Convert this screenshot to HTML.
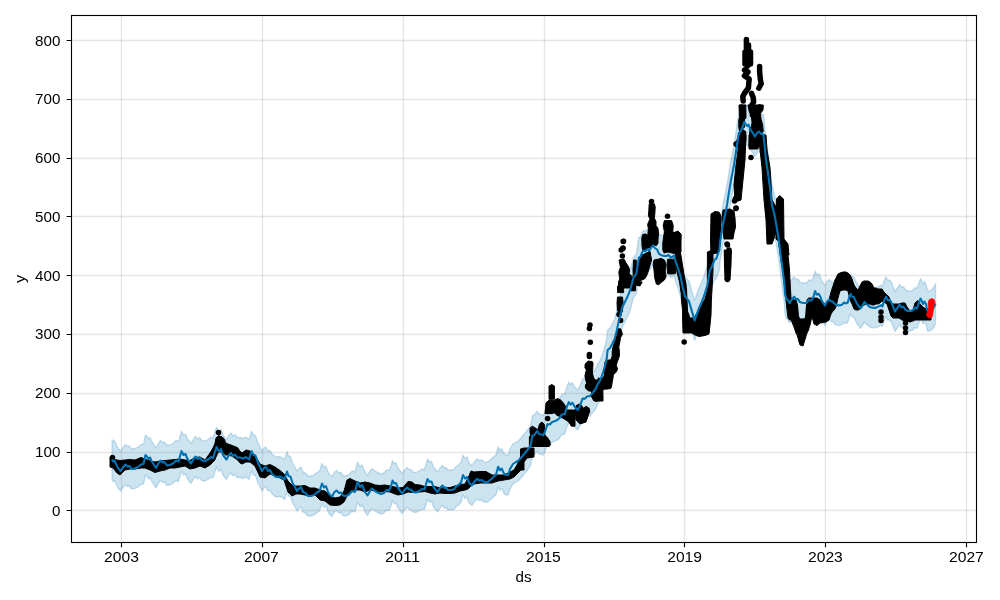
<!DOCTYPE html>
<html><head><meta charset="utf-8"><style>html,body{margin:0;padding:0;background:#fff;}svg{display:block;will-change:transform;}</style></head>
<body>
<svg width="1000" height="600" viewBox="0 0 1000 600">
<rect width="1000" height="600" fill="#fff"/>
<path d="M112.1,439.5 113.0,441.5 114.5,440.5 116.0,444.0 118.0,448.0 120.5,451.0 122.5,448.0 125.5,444.5 127.5,446.5 129.5,446.0 131.5,449.0 135.0,448.5 138.0,447.0 141.0,444.5 143.5,444.0 145.5,435.0 147.0,436.5 148.5,439.0 150.0,437.5 151.5,441.0 154.0,445.0 156.0,448.0 158.0,444.0 160.5,440.5 162.5,442.5 164.5,442.0 167.0,445.5 170.0,445.0 173.0,443.5 176.0,440.5 178.5,441.5 181.5,431.0 183.5,435.0 185.5,434.0 187.5,439.0 191.0,443.5 193.5,439.0 195.5,436.5 197.5,439.0 199.5,437.5 202.0,440.5 205.0,441.0 208.0,439.5 211.0,437.0 213.0,438.0 216.5,427.0 218.0,430.0 219.5,431.5 221.0,429.0 223.0,435.0 226.5,439.5 229.0,435.0 231.0,433.0 233.0,436.0 235.0,434.5 237.0,437.5 240.0,437.5 243.0,438.5 246.0,437.0 249.0,439.5 251.5,431.0 253.5,435.0 255.5,435.5 258.0,443.0 260.0,447.0 262.0,451.0 264.0,448.0 266.0,447.0 268.0,451.0 270.0,450.0 272.0,454.0 276.0,457.0 280.0,456.5 282.0,457.5 284.5,459.5 287.0,451.5 288.5,456.0 290.5,456.5 292.5,463.0 295.0,467.0 297.0,471.0 299.0,468.5 301.0,467.0 303.0,472.0 305.5,473.0 308.0,476.0 311.0,476.0 314.0,475.0 317.0,472.5 319.5,471.0 322.0,463.5 324.0,467.5 326.0,466.0 328.0,472.0 330.0,475.0 332.0,476.5 334.5,472.0 336.5,470.5 339.0,473.0 341.0,472.5 343.0,475.5 346.0,476.0 349.0,474.5 352.0,471.0 355.0,472.0 357.5,462.0 360.0,467.0 362.0,465.0 365.0,472.0 367.5,475.5 370.0,471.0 372.0,468.5 375.0,471.0 377.5,472.5 381.0,474.0 384.0,473.0 386.5,470.0 389.0,470.5 391.0,466.0 392.5,460.5 394.0,463.5 396.0,463.0 398.0,468.0 400.0,470.5 402.0,473.5 404.5,470.0 407.0,467.5 409.0,469.5 411.0,469.5 413.0,472.0 416.0,472.5 419.0,471.0 422.0,469.0 424.5,469.5 427.5,459.0 429.5,462.0 431.5,461.5 433.5,467.0 435.5,469.5 437.5,472.0 440.0,468.0 442.5,465.5 444.5,468.0 446.0,467.5 448.0,470.0 451.0,470.0 454.0,469.5 456.0,466.5 458.0,465.5 461.0,462.5 463.0,455.0 465.0,458.5 467.0,457.0 469.0,463.0 472.0,465.4 474.8,461.2 477.2,458.8 479.6,460.6 482.0,460.0 484.4,462.4 488.0,461.8 491.6,458.8 494.0,456.4 495.8,455.2 498.2,446.8 500.0,450.4 501.8,448.6 503.6,452.8 505.0,454.5 508.0,455.2 510.0,449.0 513.0,444.0 516.0,442.0 518.0,441.0 521.0,438.0 525.0,433.0 529.0,428.0 530.6,425.4 532.4,415.8 534.2,415.2 537.2,411.0 539.0,414.0 541.4,414.6 543.2,415.2 545.0,411.6 547.4,404.4 549.8,404.4 552.2,402.0 555.8,400.8 559.4,398.4 561.6,394.8 562.4,394.2 564.8,394.2 565.2,392.4 567.0,386.4 568.8,382.2 570.6,384.6 572.4,382.8 574.8,387.0 577.8,390.0 580.2,385.2 582.6,378.6 585.0,378.6 587.4,376.2 589.8,376.2 592.8,372.6 595.6,369.0 597.8,363.8 599.6,361.4 601.4,357.2 603.2,351.8 605.0,345.8 606.8,338.0 607.6,330.0 609.8,328.2 612.2,324.0 614.6,319.2 616.4,312.0 618.2,303.6 620.0,296.0 622.4,287.0 626.0,279.8 629.0,273.2 630.8,268.0 633.2,258.4 636.4,253.6 638.8,237.6 640.4,236.8 642.4,232.0 643.6,230.4 645.2,231.2 647.2,229.2 649.2,230.4 651.6,227.2 653.2,225.6 654.8,228.0 657.2,229.6 658.8,233.6 661.2,235.2 664.4,236.0 666.8,236.0 668.4,234.8 670.8,237.6 672.4,236.8 674.0,235.6 675.6,241.6 678.0,248.0 680.4,256.0 682.6,266.8 685.0,276.4 689.0,281.2 692.2,292.4 694.6,300.4 698.6,289.2 703.4,278.0 707.4,265.2 709.8,250.8 712.2,246.0 714.6,239.6 716.2,238.8 719.4,230.0 720.0,222.0 723.0,204.0 725.0,195.0 727.0,185.0 728.5,175.0 731.0,160.0 734.0,145.0 736.7,127.0 738.8,113.0 740.9,110.9 743.0,106.0 744.4,101.8 745.8,104.6 747.2,106.0 748.6,104.6 750.0,108.8 752.8,113.0 754.9,116.5 757.0,113.0 759.1,111.6 761.2,113.7 763.3,114.4 764.0,120.0 764.7,127.0 766.0,140.0 768.0,153.0 770.0,168.0 772.0,185.0 774.5,195.0 776.5,206.0 778.0,215.0 779.5,225.0 781.0,238.0 784.2,262.0 785.1,274.0 786.0,278.2 787.8,280.0 789.6,283.0 791.4,280.0 794.1,276.7 795.9,279.1 798.0,279.1 799.8,282.1 802.2,282.7 804.6,283.0 807.0,282.7 808.8,280.0 811.2,280.6 813.0,278.2 815.1,271.0 816.6,274.6 818.7,273.7 820.2,276.4 822.0,281.2 825.0,285.4 826.8,281.8 829.2,279.4 831.0,281.2 832.8,281.8 834.0,283.0 835.8,284.8 838.2,285.4 840.4,285.2 842.2,284.6 844.0,282.5 845.8,283.4 847.6,282.8 849.4,276.8 850.6,273.8 851.8,276.8 853.6,276.8 855.4,280.4 857.2,284.0 859.0,286.4 860.5,288.5 862.0,286.4 864.4,281.9 866.2,284.0 868.0,285.2 869.8,287.0 871.6,287.6 874.0,287.9 876.4,287.6 878.8,286.4 881.2,285.2 882.4,286.4 884.2,280.4 886.0,276.8 887.8,280.4 889.6,279.8 891.5,282.5 893.0,286.5 895.0,291.5 897.0,288.5 899.5,284.5 901.5,287.5 903.5,286.5 905.5,290.0 908.0,291.0 911.0,291.0 913.0,290.0 915.0,287.5 917.0,288.5 918.5,284.0 920.5,278.5 922.0,281.5 923.0,284.0 924.5,281.5 926.0,284.5 927.5,291.0 930.0,291.0 932.0,289.5 934.0,287.0 935.5,283.5 L935.5,323.5 934.0,327.0 932.0,329.5 930.0,331.0 927.5,331.0 926.0,324.5 924.5,321.5 923.0,324.0 922.0,321.5 920.5,318.5 918.5,324.0 917.0,328.5 915.0,327.5 913.0,330.0 911.0,331.0 908.0,331.0 905.5,330.0 903.5,326.5 901.5,327.5 899.5,324.5 897.0,328.5 895.0,331.5 893.0,326.5 891.5,322.5 889.6,319.8 887.8,320.4 886.0,316.8 884.2,320.4 882.4,326.4 881.2,325.2 878.8,326.4 876.4,327.6 874.0,327.9 871.6,327.6 869.8,327.0 868.0,325.2 866.2,324.0 864.4,321.9 862.0,326.4 860.5,328.5 859.0,326.4 857.2,324.0 855.4,320.4 853.6,316.8 851.8,316.8 850.6,313.8 849.4,316.8 847.6,322.8 845.8,323.4 844.0,322.5 842.2,324.6 840.4,325.2 838.2,325.4 835.8,324.8 834.0,323.0 832.8,321.8 831.0,321.2 829.2,319.4 826.8,321.8 825.0,325.4 822.0,321.2 820.2,316.4 818.7,313.7 816.6,314.6 815.1,311.0 813.0,318.2 811.2,320.6 808.8,320.0 807.0,322.7 804.6,323.0 802.2,322.7 799.8,322.1 798.0,319.1 795.9,319.1 794.1,316.7 791.4,320.0 789.6,323.0 787.8,320.0 786.0,318.2 785.1,314.0 784.2,302.0 781.0,278.0 779.5,265.0 778.0,255.0 776.5,246.0 774.5,235.0 772.0,225.0 770.0,208.0 768.0,193.0 766.0,180.0 764.7,167.0 764.0,160.0 763.3,154.4 761.2,153.7 759.1,151.6 757.0,153.0 754.9,156.5 752.8,153.0 750.0,148.8 748.6,144.6 747.2,146.0 745.8,144.6 744.4,141.8 743.0,146.0 740.9,150.9 738.8,153.0 736.7,167.0 734.0,185.0 731.0,200.0 728.5,215.0 727.0,225.0 725.0,235.0 723.0,244.0 720.0,262.0 719.4,270.0 716.2,278.8 714.6,279.6 712.2,286.0 709.8,290.8 707.4,305.2 703.4,318.0 698.6,329.2 694.6,340.4 692.2,332.4 689.0,321.2 685.0,316.4 682.6,306.8 680.4,296.0 678.0,288.0 675.6,281.6 674.0,275.6 672.4,276.8 670.8,277.6 668.4,274.8 666.8,276.0 664.4,276.0 661.2,275.2 658.8,273.6 657.2,269.6 654.8,268.0 653.2,265.6 651.6,267.2 649.2,270.4 647.2,269.2 645.2,271.2 643.6,270.4 642.4,272.0 640.4,276.8 638.8,277.6 636.4,293.6 633.2,298.4 630.8,308.0 629.0,313.2 626.0,319.8 622.4,327.0 620.0,336.0 618.2,343.6 616.4,352.0 614.6,359.2 612.2,364.0 609.8,368.2 607.6,370.0 606.8,378.0 605.0,385.8 603.2,391.8 601.4,397.2 599.6,401.4 597.8,403.8 595.6,409.0 592.8,412.6 589.8,416.2 587.4,416.2 585.0,418.6 582.6,418.6 580.2,425.2 577.8,430.0 574.8,427.0 572.4,422.8 570.6,424.6 568.8,422.2 567.0,426.4 565.2,432.4 564.8,434.2 562.4,434.2 561.6,434.8 559.4,438.4 555.8,440.8 552.2,442.0 549.8,444.4 547.4,444.4 545.0,451.6 543.2,455.2 541.4,454.6 539.0,454.0 537.2,451.0 534.2,455.2 532.4,455.8 530.6,465.4 529.0,468.0 525.0,473.0 521.0,478.0 518.0,481.0 516.0,482.0 513.0,484.0 510.0,489.0 508.0,495.2 505.0,494.5 503.6,492.8 501.8,488.6 500.0,490.4 498.2,486.8 495.8,495.2 494.0,496.4 491.6,498.8 488.0,501.8 484.4,502.4 482.0,500.0 479.6,500.6 477.2,498.8 474.8,501.2 472.0,505.4 469.0,503.0 467.0,497.0 465.0,498.5 463.0,495.0 461.0,502.5 458.0,505.5 456.0,506.5 454.0,509.5 451.0,510.0 448.0,510.0 446.0,507.5 444.5,508.0 442.5,505.5 440.0,508.0 437.5,512.0 435.5,509.5 433.5,507.0 431.5,501.5 429.5,502.0 427.5,499.0 424.5,509.5 422.0,509.0 419.0,511.0 416.0,512.5 413.0,512.0 411.0,509.5 409.0,509.5 407.0,507.5 404.5,510.0 402.0,513.5 400.0,510.5 398.0,508.0 396.0,503.0 394.0,503.5 392.5,500.5 391.0,506.0 389.0,510.5 386.5,510.0 384.0,513.0 381.0,514.0 377.5,512.5 375.0,511.0 372.0,508.5 370.0,511.0 367.5,515.5 365.0,512.0 362.0,505.0 360.0,507.0 357.5,502.0 355.0,512.0 352.0,511.0 349.0,514.5 346.0,516.0 343.0,515.5 341.0,512.5 339.0,513.0 336.5,510.5 334.5,512.0 332.0,516.5 330.0,515.0 328.0,512.0 326.0,506.0 324.0,507.5 322.0,503.5 319.5,511.0 317.0,512.5 314.0,515.0 311.0,516.0 308.0,516.0 305.5,513.0 303.0,512.0 301.0,507.0 299.0,508.5 297.0,511.0 295.0,507.0 292.5,503.0 290.5,496.5 288.5,496.0 287.0,491.5 284.5,499.5 282.0,497.5 280.0,496.5 276.0,497.0 272.0,494.0 270.0,490.0 268.0,491.0 266.0,487.0 264.0,488.0 262.0,491.0 260.0,487.0 258.0,483.0 255.5,475.5 253.5,475.0 251.5,471.0 249.0,479.5 246.0,477.0 243.0,478.5 240.0,477.5 237.0,477.5 235.0,474.5 233.0,476.0 231.0,473.0 229.0,475.0 226.5,479.5 223.0,475.0 221.0,469.0 219.5,471.5 218.0,470.0 216.5,467.0 213.0,478.0 211.0,477.0 208.0,479.5 205.0,481.0 202.0,480.5 199.5,477.5 197.5,479.0 195.5,476.5 193.5,479.0 191.0,483.5 187.5,479.0 185.5,474.0 183.5,475.0 181.5,471.0 178.5,481.5 176.0,480.5 173.0,483.5 170.0,485.0 167.0,485.5 164.5,482.0 162.5,482.5 160.5,480.5 158.0,484.0 156.0,488.0 154.0,485.0 151.5,481.0 150.0,477.5 148.5,479.0 147.0,476.5 145.5,475.0 143.5,484.0 141.0,484.5 138.0,487.0 135.0,488.5 131.5,489.0 129.5,486.0 127.5,486.5 125.5,484.5 122.5,488.0 120.5,491.0 118.0,488.0 116.0,484.0 114.5,480.5 113.0,481.5 112.1,479.5Z" fill="#0072B2" fill-opacity="0.2" stroke="#0072B2" stroke-opacity="0.2" stroke-width="1.39" stroke-linejoin="round"/>
<path d="M121.5,15.5V542.5" stroke="#808080" stroke-opacity="0.2" stroke-width="1.39" fill="none"/>
<path d="M262.5,15.5V542.5" stroke="#808080" stroke-opacity="0.2" stroke-width="1.39" fill="none"/>
<path d="M403.5,15.5V542.5" stroke="#808080" stroke-opacity="0.2" stroke-width="1.39" fill="none"/>
<path d="M544.5,15.5V542.5" stroke="#808080" stroke-opacity="0.2" stroke-width="1.39" fill="none"/>
<path d="M684.5,15.5V542.5" stroke="#808080" stroke-opacity="0.2" stroke-width="1.39" fill="none"/>
<path d="M825.5,15.5V542.5" stroke="#808080" stroke-opacity="0.2" stroke-width="1.39" fill="none"/>
<path d="M966.5,15.5V542.5" stroke="#808080" stroke-opacity="0.2" stroke-width="1.39" fill="none"/>
<path d="M71.5,510.5H976.5" stroke="#808080" stroke-opacity="0.2" stroke-width="1.39" fill="none"/>
<path d="M71.5,452.5H976.5" stroke="#808080" stroke-opacity="0.2" stroke-width="1.39" fill="none"/>
<path d="M71.5,393.5H976.5" stroke="#808080" stroke-opacity="0.2" stroke-width="1.39" fill="none"/>
<path d="M71.5,334.5H976.5" stroke="#808080" stroke-opacity="0.2" stroke-width="1.39" fill="none"/>
<path d="M71.5,275.5H976.5" stroke="#808080" stroke-opacity="0.2" stroke-width="1.39" fill="none"/>
<path d="M71.5,216.5H976.5" stroke="#808080" stroke-opacity="0.2" stroke-width="1.39" fill="none"/>
<path d="M71.5,158.5H976.5" stroke="#808080" stroke-opacity="0.2" stroke-width="1.39" fill="none"/>
<path d="M71.5,99.5H976.5" stroke="#808080" stroke-opacity="0.2" stroke-width="1.39" fill="none"/>
<path d="M71.5,40.5H976.5" stroke="#808080" stroke-opacity="0.2" stroke-width="1.39" fill="none"/>
<g fill="#000">
<path d="M110.0,457.0 L111.0,457.7 L112.0,458.3 L113.0,459.0 L114.0,459.2 L115.0,459.5 L116.0,459.8 L117.0,460.0 L118.0,460.2 L119.0,460.3 L120.0,460.5 L121.0,460.4 L122.0,460.3 L123.0,460.2 L124.0,460.1 L125.0,460.0 L126.0,459.9 L127.0,459.8 L128.0,459.7 L129.0,459.6 L130.0,459.5 L131.0,459.6 L132.0,459.7 L133.0,459.8 L134.0,459.9 L135.0,460.0 L136.0,459.6 L137.0,459.2 L138.0,458.8 L139.0,458.3 L140.0,457.9 L141.0,457.5 L142.0,457.9 L143.0,458.2 L144.0,458.6 L145.0,459.0 L146.0,459.4 L147.0,459.8 L148.0,460.2 L149.0,460.6 L150.0,461.0 L151.0,461.2 L152.0,461.4 L153.0,461.6 L154.0,461.8 L155.0,462.0 L156.0,461.8 L157.0,461.6 L158.0,461.4 L159.0,461.2 L160.0,461.0 L161.0,460.9 L162.0,460.8 L163.0,460.7 L164.0,460.6 L165.0,460.5 L166.0,460.4 L167.0,460.3 L168.0,460.2 L169.0,460.1 L170.0,460.0 L171.0,459.9 L172.0,459.8 L173.0,459.7 L174.0,459.6 L175.0,459.5 L176.0,459.4 L177.0,459.3 L178.0,459.2 L179.0,459.1 L180.0,459.0 L181.0,459.2 L182.0,459.4 L183.0,459.6 L184.0,459.8 L185.0,460.0 L186.0,460.1 L187.0,460.2 L188.0,460.3 L189.0,460.4 L190.0,460.5 L191.0,459.9 L192.0,459.3 L193.0,458.7 L194.0,458.1 L195.0,457.5 L196.0,457.4 L197.0,457.3 L198.0,457.2 L199.0,457.1 L200.0,457.0 L201.0,457.6 L202.0,458.2 L203.0,458.8 L204.0,459.4 L205.0,460.0 L206.0,458.6 L207.0,457.2 L208.0,455.8 L209.0,454.4 L210.0,453.0 L211.0,451.3 L212.0,449.7 L213.0,448.0 L213.9,446.0 L214.8,444.0 L216.0,438.0 L217.2,436.8 L218.4,435.6 L219.3,435.9 L220.2,436.2 L221.1,436.5 L222.0,436.8 L223.2,438.0 L224.4,439.2 L225.6,442.8 L226.8,443.4 L228.0,444.0 L228.9,444.3 L229.8,444.6 L230.7,444.9 L231.6,445.2 L232.6,445.6 L233.6,446.0 L234.6,446.4 L235.6,446.8 L236.6,447.2 L237.6,447.6 L238.8,449.4 L240.0,451.2 L241.0,452.1 L242.0,453.0 L243.0,452.2 L244.0,451.5 L245.0,450.8 L246.0,450.0 L247.0,450.2 L248.0,450.5 L249.0,450.8 L250.0,451.0 L251.0,451.8 L252.0,452.6 L253.0,453.4 L254.0,454.2 L255.0,455.0 L256.0,456.8 L257.0,458.6 L258.0,460.4 L259.0,462.2 L260.0,464.0 L261.0,464.4 L262.0,464.8 L263.0,465.2 L264.0,465.6 L265.0,466.0 L266.0,465.7 L267.0,465.4 L268.0,465.1 L269.0,464.8 L270.0,464.5 L271.0,465.0 L272.0,465.5 L273.0,466.0 L274.0,466.5 L275.0,467.0 L276.0,467.7 L277.0,468.4 L278.0,469.1 L279.0,469.8 L280.0,470.5 L281.0,471.4 L282.0,472.2 L283.0,473.1 L284.0,474.0 L285.0,475.8 L286.0,477.5 L287.0,479.2 L288.0,481.0 L289.0,482.0 L290.0,483.0 L291.0,484.0 L292.0,485.0 L293.0,485.2 L294.0,485.5 L295.0,485.8 L296.0,486.0 L297.0,486.0 L298.0,486.0 L299.0,486.0 L300.0,486.0 L301.0,485.9 L302.0,485.8 L303.0,485.7 L304.0,485.6 L305.0,485.5 L306.0,486.0 L307.0,486.5 L308.0,487.0 L309.0,487.5 L310.0,488.0 L311.0,488.0 L312.0,488.0 L313.0,488.0 L314.0,488.0 L315.0,488.0 L316.0,488.4 L317.0,488.8 L318.0,489.2 L319.0,489.6 L320.0,490.0 L321.0,490.2 L322.0,490.4 L323.0,490.6 L324.0,490.8 L325.0,491.0 L326.0,492.0 L327.0,493.0 L328.0,494.0 L329.0,495.0 L330.0,496.0 L331.0,496.4 L332.0,496.8 L333.0,497.2 L334.0,497.6 L335.0,498.0 L336.0,497.8 L337.0,497.6 L338.0,497.4 L339.0,497.2 L340.0,497.0 L341.0,495.5 L342.0,494.0 L343.0,492.5 L344.0,491.0 L345.0,487.3 L346.0,483.7 L347.0,480.0 L348.0,479.5 L349.0,479.0 L350.0,478.5 L351.0,479.0 L352.0,479.5 L353.0,480.0 L354.0,480.5 L355.0,481.0 L356.0,481.4 L357.0,481.8 L358.0,482.2 L359.0,482.6 L360.0,483.0 L361.0,482.8 L362.0,482.6 L363.0,482.4 L364.0,482.2 L365.0,482.0 L366.0,482.2 L367.0,482.4 L368.0,482.6 L369.0,482.8 L370.0,483.0 L371.0,483.4 L372.0,483.8 L373.0,484.2 L374.0,484.6 L375.0,485.0 L376.0,485.1 L377.0,485.2 L378.0,485.3 L379.0,485.4 L380.0,485.5 L381.0,485.4 L382.0,485.3 L383.0,485.2 L384.0,485.1 L385.0,485.0 L386.0,485.2 L387.0,485.4 L388.0,485.6 L389.0,485.8 L390.0,486.0 L391.0,486.2 L392.0,486.4 L393.0,486.6 L394.0,486.8 L395.0,487.0 L396.0,487.3 L397.0,487.7 L398.0,488.0 L399.0,487.9 L400.0,487.8 L401.0,487.7 L402.0,487.6 L403.0,487.5 L404.0,486.3 L405.0,485.1 L406.0,483.9 L407.0,482.7 L408.0,481.5 L409.0,481.6 L410.0,481.8 L411.0,481.9 L412.0,482.0 L413.0,482.8 L414.0,483.7 L415.0,484.5 L416.0,484.6 L417.0,484.7 L418.0,484.8 L419.0,484.9 L420.0,485.0 L421.0,485.3 L422.0,485.6 L423.0,485.9 L424.0,486.2 L425.0,486.5 L426.0,486.5 L427.0,486.5 L428.0,486.5 L429.0,486.5 L430.0,486.5 L431.0,486.5 L432.0,486.5 L433.0,486.5 L434.0,486.5 L435.0,486.5 L436.0,486.8 L437.0,487.1 L438.0,487.4 L439.0,487.7 L440.0,488.0 L441.0,487.9 L442.0,487.8 L443.0,487.7 L444.0,487.6 L445.0,487.5 L446.0,487.5 L447.0,487.5 L448.0,487.5 L449.0,487.5 L450.0,487.5 L451.0,487.2 L452.0,486.9 L453.0,486.6 L454.0,486.3 L455.0,486.0 L456.0,485.7 L457.0,485.4 L458.0,485.1 L459.0,484.8 L460.0,484.5 L461.0,484.4 L462.0,484.3 L463.0,484.2 L464.0,484.1 L465.0,484.0 L466.0,482.0 L467.0,480.0 L468.0,478.0 L469.0,475.7 L470.0,473.3 L471.0,471.0 L472.0,471.3 L473.0,471.7 L474.0,472.0 L475.0,471.9 L476.0,471.8 L477.0,471.8 L478.0,471.7 L479.0,471.6 L480.0,471.5 L481.0,471.5 L482.0,471.5 L483.0,471.5 L484.0,471.5 L485.0,471.5 L486.0,471.5 L487.0,472.1 L488.0,472.7 L489.0,473.2 L490.0,473.8 L491.0,474.4 L492.0,475.0 L493.0,475.0 L494.0,475.0 L495.0,475.0 L496.0,475.0 L497.0,475.0 L498.0,475.0 L499.0,475.0 L500.0,475.0 L501.0,475.0 L502.0,475.0 L503.0,475.0 L504.0,475.0 L505.0,474.5 L506.0,474.0 L507.0,473.5 L508.0,473.0 L509.0,472.5 L510.0,472.0 L511.0,471.5 L512.0,471.0 L513.0,470.5 L514.0,470.0 L515.0,468.2 L516.0,466.5 L517.0,464.8 L518.0,463.0 L519.0,462.7 L520.0,462.3 L521.0,462.0 L521.0,470.0 L520.0,471.0 L519.0,472.0 L518.0,473.0 L517.0,474.0 L516.0,475.0 L515.0,476.0 L514.0,477.0 L513.0,477.5 L512.0,478.0 L511.0,478.5 L510.0,479.0 L509.0,479.2 L508.0,479.3 L507.0,479.5 L506.0,479.7 L505.0,479.8 L504.0,480.0 L503.0,480.2 L502.0,480.3 L501.0,480.5 L500.0,480.7 L499.0,480.8 L498.0,481.0 L497.0,481.3 L496.0,481.7 L495.0,482.0 L494.0,482.3 L493.0,482.7 L492.0,483.0 L491.0,483.0 L490.0,483.0 L489.0,483.0 L488.0,483.0 L487.0,483.0 L486.0,483.0 L485.0,483.0 L484.0,483.0 L483.0,483.0 L482.0,483.0 L481.0,483.0 L480.0,483.0 L479.0,483.2 L478.0,483.3 L477.0,483.5 L476.0,483.7 L475.0,483.8 L474.0,484.0 L473.0,484.7 L472.0,485.3 L471.0,486.0 L470.0,487.0 L469.0,488.0 L468.0,489.0 L467.0,489.3 L466.0,489.7 L465.0,490.0 L464.0,490.2 L463.0,490.4 L462.0,490.6 L461.0,490.8 L460.0,491.0 L459.0,491.4 L458.0,491.8 L457.0,492.2 L456.0,492.6 L455.0,493.0 L454.0,493.1 L453.0,493.2 L452.0,493.3 L451.0,493.4 L450.0,493.5 L449.0,493.5 L448.0,493.5 L447.0,493.5 L446.0,493.5 L445.0,493.5 L444.0,493.4 L443.0,493.3 L442.0,493.2 L441.0,493.1 L440.0,493.0 L439.0,493.2 L438.0,493.4 L437.0,493.6 L436.0,493.8 L435.0,494.0 L434.0,493.8 L433.0,493.6 L432.0,493.4 L431.0,493.2 L430.0,493.0 L429.0,492.7 L428.0,492.4 L427.0,492.1 L426.0,491.8 L425.0,491.5 L424.0,491.6 L423.0,491.7 L422.0,491.8 L421.0,491.9 L420.0,492.0 L419.0,492.0 L418.0,492.0 L417.0,492.0 L416.0,492.0 L415.0,492.0 L414.0,492.2 L413.0,492.3 L412.0,492.5 L411.0,492.4 L410.0,492.2 L409.0,492.1 L408.0,492.0 L407.0,492.4 L406.0,492.8 L405.0,493.2 L404.0,493.6 L403.0,494.0 L402.0,494.2 L401.0,494.4 L400.0,494.6 L399.0,494.8 L398.0,495.0 L397.0,494.7 L396.0,494.3 L395.0,494.0 L394.0,493.6 L393.0,493.2 L392.0,492.8 L391.0,492.4 L390.0,492.0 L389.0,491.9 L388.0,491.8 L387.0,491.7 L386.0,491.6 L385.0,491.5 L384.0,491.6 L383.0,491.7 L382.0,491.8 L381.0,491.9 L380.0,492.0 L379.0,491.8 L378.0,491.6 L377.0,491.4 L376.0,491.2 L375.0,491.0 L374.0,490.8 L373.0,490.6 L372.0,490.4 L371.0,490.2 L370.0,490.0 L369.0,490.4 L368.0,490.8 L367.0,491.2 L366.0,491.6 L365.0,492.0 L364.0,491.6 L363.0,491.2 L362.0,490.8 L361.0,490.4 L360.0,490.0 L359.0,490.0 L358.0,490.0 L357.0,490.0 L356.0,490.0 L355.0,490.0 L354.0,490.4 L353.0,490.8 L352.0,491.2 L351.0,491.6 L350.0,492.0 L349.0,493.3 L348.0,494.7 L347.0,496.0 L346.0,498.0 L345.0,500.0 L344.0,502.0 L343.0,502.8 L342.0,503.5 L341.0,504.2 L340.0,505.0 L339.0,505.1 L338.0,505.2 L337.0,505.3 L336.0,505.4 L335.0,505.5 L334.0,505.4 L333.0,505.3 L332.0,505.2 L331.0,505.1 L330.0,505.0 L329.0,504.2 L328.0,503.4 L327.0,502.6 L326.0,501.8 L325.0,501.0 L324.0,500.8 L323.0,500.6 L322.0,500.4 L321.0,500.2 L320.0,500.0 L319.0,499.0 L318.0,498.0 L317.0,497.0 L316.0,496.0 L315.0,495.0 L314.0,495.2 L313.0,495.4 L312.0,495.6 L311.0,495.8 L310.0,496.0 L309.0,495.8 L308.0,495.6 L307.0,495.4 L306.0,495.2 L305.0,495.0 L304.0,494.8 L303.0,494.6 L302.0,494.4 L301.0,494.2 L300.0,494.0 L299.0,494.0 L298.0,494.0 L297.0,494.0 L296.0,494.0 L295.0,494.5 L294.0,495.0 L293.0,495.5 L292.0,496.0 L291.0,495.0 L290.0,494.0 L289.0,493.0 L288.0,492.0 L287.0,489.0 L286.0,486.0 L285.0,483.0 L284.0,480.0 L283.0,479.5 L282.0,479.0 L281.0,478.5 L280.0,478.0 L279.0,477.6 L278.0,477.2 L277.0,476.8 L276.0,476.4 L275.0,476.0 L274.0,475.6 L273.0,475.2 L272.0,474.8 L271.0,474.4 L270.0,474.0 L269.0,474.8 L268.0,475.6 L267.0,476.4 L266.0,477.2 L265.0,478.0 L264.0,477.8 L263.0,477.6 L262.0,477.4 L261.0,477.2 L260.0,477.0 L259.0,474.8 L258.0,472.6 L257.0,470.4 L256.0,468.2 L255.0,466.0 L254.0,465.2 L253.0,464.4 L252.0,463.6 L251.0,462.8 L250.0,462.0 L249.0,462.0 L248.0,462.0 L247.0,462.0 L246.0,462.0 L245.0,462.5 L244.0,463.0 L243.0,463.5 L242.0,464.0 L241.0,463.5 L240.0,463.0 L238.8,461.5 L237.6,460.0 L236.6,459.3 L235.6,458.7 L234.6,458.0 L233.6,457.3 L232.6,456.7 L231.6,456.0 L230.7,455.8 L229.8,455.5 L228.9,455.2 L228.0,455.0 L226.8,455.0 L225.6,455.0 L224.4,454.0 L223.2,453.0 L222.0,452.0 L221.1,452.0 L220.2,452.0 L219.3,452.0 L218.4,452.0 L217.2,454.5 L216.0,457.0 L214.8,460.0 L213.9,461.0 L213.0,462.0 L212.0,463.0 L211.0,464.0 L210.0,465.0 L209.0,465.6 L208.0,466.2 L207.0,466.8 L206.0,467.4 L205.0,468.0 L204.0,467.6 L203.0,467.2 L202.0,466.8 L201.0,466.4 L200.0,466.0 L199.0,466.4 L198.0,466.8 L197.0,467.2 L196.0,467.6 L195.0,468.0 L194.0,468.2 L193.0,468.4 L192.0,468.6 L191.0,468.8 L190.0,469.0 L189.0,468.4 L188.0,467.8 L187.0,467.2 L186.0,466.6 L185.0,466.0 L184.0,466.2 L183.0,466.4 L182.0,466.6 L181.0,466.8 L180.0,467.0 L179.0,467.2 L178.0,467.4 L177.0,467.6 L176.0,467.8 L175.0,468.0 L174.0,468.0 L173.0,468.0 L172.0,468.0 L171.0,468.0 L170.0,468.0 L169.0,468.4 L168.0,468.8 L167.0,469.2 L166.0,469.6 L165.0,470.0 L164.0,470.2 L163.0,470.4 L162.0,470.6 L161.0,470.8 L160.0,471.0 L159.0,471.3 L158.0,471.6 L157.0,471.9 L156.0,472.2 L155.0,472.5 L154.0,472.0 L153.0,471.5 L152.0,471.0 L151.0,470.5 L150.0,470.0 L149.0,469.6 L148.0,469.2 L147.0,468.8 L146.0,468.4 L145.0,468.0 L144.0,468.0 L143.0,468.0 L142.0,468.0 L141.0,468.0 L140.0,468.2 L139.0,468.3 L138.0,468.5 L137.0,468.7 L136.0,468.8 L135.0,469.0 L134.0,469.0 L133.0,469.0 L132.0,469.0 L131.0,469.0 L130.0,469.0 L129.0,469.2 L128.0,469.4 L127.0,469.6 L126.0,469.8 L125.0,470.0 L124.0,471.0 L123.0,472.0 L122.0,473.0 L121.0,474.0 L120.0,475.0 L119.0,474.3 L118.0,473.7 L117.0,473.0 L116.0,471.8 L115.0,470.5 L114.0,469.2 L113.0,468.0 L112.0,467.7 L111.0,467.3 L110.0,467.0Z" stroke="#000" stroke-width="1" stroke-linejoin="round"/>
<path d="M779.0,242.0 L780.0,242.0 L781.0,242.0 L782.0,242.0 L783.0,242.0 L784.0,243.5 L785.0,245.0 L785.8,247.5 L786.5,250.0 L787.2,252.5 L788.0,255.0 L788.8,262.5 L789.5,270.0 L790.2,284.0 L791.0,298.0 L792.0,298.7 L793.0,299.3 L794.0,300.0 L795.0,300.0 L796.0,300.0 L796.8,302.5 L797.5,305.0 L798.5,316.0 L799.2,317.5 L800.0,319.0 L801.0,319.0 L802.0,319.0 L803.0,319.0 L804.2,318.5 L805.5,318.0 L806.2,309.0 L807.0,300.0 L807.8,299.0 L808.5,298.0 L809.2,298.0 L810.0,298.0 L811.0,298.0 L812.0,298.0 L813.0,298.0 L814.0,298.0 L815.0,298.0 L816.0,298.0 L817.0,298.0 L818.0,298.7 L819.0,299.3 L820.0,300.0 L821.0,301.0 L822.0,302.0 L823.0,303.0 L824.0,303.3 L825.0,303.7 L826.0,304.0 L827.0,302.7 L828.0,301.3 L829.0,300.0 L830.0,296.0 L831.0,292.0 L832.0,289.0 L833.0,286.0 L834.0,283.0 L835.0,280.0 L835.8,278.5 L836.5,277.0 L837.2,275.5 L838.0,274.0 L839.0,273.5 L840.0,273.0 L841.0,272.7 L842.0,272.3 L843.0,272.0 L844.0,272.0 L845.0,272.0 L846.0,272.0 L847.0,272.5 L848.0,273.0 L849.0,274.0 L850.0,275.0 L851.0,277.0 L852.0,279.0 L853.0,282.0 L854.0,285.0 L855.0,286.5 L856.0,288.0 L857.0,289.0 L858.0,290.0 L859.0,288.0 L860.0,286.0 L861.0,284.0 L862.0,282.0 L863.0,281.5 L864.0,281.0 L865.0,281.0 L866.0,281.0 L867.0,281.0 L868.0,281.0 L869.0,281.5 L870.0,282.0 L871.0,283.0 L872.0,284.0 L873.0,286.0 L874.0,288.0 L875.0,288.0 L876.0,288.0 L877.0,288.5 L878.0,289.0 L879.0,289.0 L880.0,289.0 L881.0,289.0 L882.0,289.0 L883.0,290.5 L884.0,292.0 L885.0,293.0 L886.0,294.0 L887.0,295.0 L888.0,296.0 L889.0,297.0 L890.0,299.5 L891.0,302.0 L892.0,303.0 L893.0,304.0 L894.0,304.0 L895.0,304.0 L896.0,304.0 L897.0,304.0 L898.0,304.0 L899.0,304.0 L900.0,303.7 L901.0,303.3 L902.0,303.0 L903.0,303.0 L904.0,303.0 L905.0,303.0 L906.0,305.0 L907.0,307.0 L908.0,308.3 L909.0,309.7 L910.0,311.0 L911.0,310.7 L912.0,310.3 L913.0,310.0 L914.0,306.5 L915.0,303.0 L916.0,302.2 L917.0,301.3 L918.0,300.5 L919.0,302.2 L920.0,304.0 L921.0,305.0 L922.0,306.0 L923.0,307.0 L924.0,307.7 L925.0,308.3 L926.0,309.0 L927.0,310.3 L928.0,311.7 L929.0,313.0 L930.0,314.5 L931.0,316.0 L931.0,320.0 L930.0,320.0 L929.0,320.0 L928.0,320.0 L927.0,320.0 L926.0,320.0 L925.0,320.0 L924.0,320.0 L923.0,320.0 L922.0,320.0 L921.0,320.0 L920.0,320.0 L919.0,320.0 L918.0,320.0 L917.0,320.0 L916.0,320.0 L915.0,320.0 L914.0,320.5 L913.0,321.0 L912.0,321.3 L911.0,321.7 L910.0,322.0 L909.0,321.7 L908.0,321.3 L907.0,321.0 L906.0,321.0 L905.0,321.0 L904.0,320.7 L903.0,320.3 L902.0,320.0 L901.0,319.3 L900.0,318.7 L899.0,318.0 L898.0,318.0 L897.0,318.0 L896.0,318.0 L895.0,318.0 L894.0,318.0 L893.0,318.0 L892.0,317.0 L891.0,316.0 L890.0,313.0 L889.0,310.0 L888.0,307.0 L887.0,304.0 L886.0,303.3 L885.0,302.7 L884.0,302.0 L883.0,301.5 L882.0,301.0 L881.0,302.0 L880.0,303.0 L879.0,303.5 L878.0,304.0 L877.0,304.0 L876.0,304.0 L875.0,304.5 L874.0,305.0 L873.0,305.0 L872.0,305.0 L871.0,304.5 L870.0,304.0 L869.0,304.0 L868.0,304.0 L867.0,304.0 L866.0,304.0 L865.0,304.5 L864.0,305.0 L863.0,305.5 L862.0,306.0 L861.0,307.5 L860.0,309.0 L859.0,309.5 L858.0,310.0 L857.0,310.0 L856.0,310.0 L855.0,309.5 L854.0,309.0 L853.0,306.5 L852.0,304.0 L851.0,302.0 L850.0,300.0 L849.0,295.5 L848.0,291.0 L847.0,290.5 L846.0,290.0 L845.0,290.0 L844.0,290.0 L843.0,290.0 L842.0,290.3 L841.0,290.7 L840.0,291.0 L839.0,294.5 L838.0,298.0 L837.2,301.5 L836.5,305.0 L835.8,307.0 L835.0,309.0 L834.0,310.0 L833.0,311.0 L832.0,312.5 L831.0,314.0 L830.0,317.0 L829.0,320.0 L828.0,320.7 L827.0,321.3 L826.0,322.0 L825.0,322.2 L824.0,322.3 L823.0,322.5 L822.0,322.7 L821.0,322.8 L820.0,323.0 L819.0,323.8 L818.0,324.7 L817.0,325.5 L816.0,325.0 L815.0,324.5 L814.0,324.0 L813.0,320.0 L812.0,316.0 L811.0,320.5 L810.0,325.0 L809.2,327.5 L808.5,330.0 L807.8,331.5 L807.0,333.0 L806.2,335.5 L805.5,338.0 L804.2,342.0 L803.0,346.0 L802.0,345.7 L801.0,345.3 L800.0,345.0 L799.2,342.5 L798.5,340.0 L797.5,336.0 L796.8,334.5 L796.0,333.0 L795.0,330.0 L794.0,327.0 L793.0,324.7 L792.0,322.3 L791.0,320.0 L790.2,320.0 L789.5,320.0 L788.8,319.0 L788.0,318.0 L787.2,311.5 L786.5,305.0 L785.8,298.5 L785.0,292.0 L784.0,282.0 L783.0,272.0 L782.0,266.0 L781.0,260.0 L780.0,253.0 L779.0,246.0Z" stroke="#000" stroke-width="1" stroke-linejoin="round"/>
<path d="M520.5,449.0 L524.0,448.0 L534.0,448.0 L534.0,457.0 L527.0,458.0 L524.0,462.0 L524.0,470.0 L518.0,470.0 L518.0,462.0 L520.5,457.0Z" stroke="#000" stroke-width="1" stroke-linejoin="round"/>
<path d="M530.0,428.0 L532.4,426.2 L535.4,428.0 L537.8,429.8 L539.6,423.8 L542.0,422.0 L544.4,424.4 L544.4,431.0 L545.0,435.2 L547.4,437.6 L549.8,441.2 L550.4,444.8 L549.2,446.5 L534.0,446.5 L529.4,446.0 L529.4,437.0 L530.6,435.2 L530.0,432.2Z" stroke="#000" stroke-width="1" stroke-linejoin="round"/>
<path d="M549.0,386.0 L551.7,384.6 L554.4,386.0 L554.4,399.2 L549.0,399.2Z" stroke="#000" stroke-width="1" stroke-linejoin="round"/>
<path d="M546.0,402.8 L549.6,399.8 L553.8,400.4 L557.4,398.6 L560.4,399.8 L562.8,402.2 L565.2,405.8 L566.4,410.0 L575.0,410.0 L575.0,426.2 L571.4,426.2 L569.6,423.2 L567.2,420.8 L564.2,419.0 L560.0,416.6 L557.0,415.4 L554.6,413.0 L551.0,413.6 L545.0,413.6 L545.4,410.0Z" stroke="#000" stroke-width="1" stroke-linejoin="round"/>
<path d="M576.0,405.8 L579.0,404.0 L581.4,405.2 L583.2,408.2 L586.2,406.4 L589.2,408.2 L589.8,411.2 L588.0,416.0 L586.0,422.0 L580.0,424.0 L576.0,420.0 L575.4,412.0Z" stroke="#000" stroke-width="1" stroke-linejoin="round"/>
<path d="M585.6,384.8 L588.0,381.8 L591.0,380.0 L600.0,380.0 L600.0,392.0 L598.8,398.0 L597.0,401.6 L594.0,400.4 L592.8,395.0 L591.0,390.8 L588.0,389.0 L585.6,387.8Z" stroke="#000" stroke-width="1" stroke-linejoin="round"/>
<path d="M588.2,361.0 L592.4,361.6 L593.0,363.4 L592.7,369.4 L592.4,373.0 L593.6,377.8 L595.4,380.2 L596.6,382.6 L596.0,386.2 L594.8,388.6 L594.2,391.0 L588.8,391.0 L585.8,388.6 L585.2,386.2 L586.7,383.8 L585.8,380.2 L584.9,376.0 L585.5,373.0 L586.4,370.0 L584.9,367.6 L585.2,364.0Z" stroke="#000" stroke-width="1" stroke-linejoin="round"/>
<path d="M605.0,362.2 L606.2,360.4 L611.0,359.8 L612.2,356.0 L612.2,351.8 L612.8,347.6 L614.0,344.0 L615.2,339.8 L616.4,335.0 L617.6,329.0 L620.6,328.7 L621.8,332.0 L622.4,334.4 L620.6,337.4 L620.0,341.0 L619.4,344.0 L618.8,347.0 L619.4,351.2 L619.4,356.0 L617.0,362.8 L616.4,365.8 L617.6,368.8 L616.4,371.8 L613.4,374.8 L612.8,379.0 L612.2,382.6 L611.6,386.2 L611.0,388.2 L608.0,389.0 L604.3,389.2 L602.7,390.5 L603.0,396.0 L603.0,401.0 L594.0,401.0 L591.0,396.0 L592.0,391.0 L595.4,389.0 L599.0,382.6 L597.8,380.2 L598.4,377.8 L600.8,379.0 L603.2,377.8 L604.4,374.8 L603.8,371.8 L604.4,367.0Z" stroke="#000" stroke-width="1" stroke-linejoin="round"/>
<path d="M617.5,297.0 L622.5,297.0 L623.0,302.0 L622.5,311.0 L621.0,314.0 L617.5,311.0 L617.0,303.0Z" stroke="#000" stroke-width="1" stroke-linejoin="round"/>
<path d="M617.6,286.0 L620.0,284.8 L623.6,286.0 L623.6,292.6 L617.6,292.6Z" stroke="#000" stroke-width="1" stroke-linejoin="round"/>
<path d="M618.8,281.0 L630.0,280.0 L636.0,281.0 L642.2,282.0 L640.0,286.0 L635.6,285.0 L635.6,290.8 L630.8,290.8 L630.8,286.0 L623.0,287.0 L618.8,286.0Z" stroke="#000" stroke-width="1" stroke-linejoin="round"/>
<path d="M619.0,260.0 L624.0,259.0 L626.0,263.0 L628.4,266.4 L629.6,269.6 L629.2,273.6 L633.2,277.6 L634.0,281.6 L635.6,284.8 L634.0,288.0 L618.8,288.0 L618.4,284.8 L619.6,278.4 L618.8,272.0 L620.4,267.2Z" stroke="#000" stroke-width="1" stroke-linejoin="round"/>
<path d="M633.6,260.0 L636.2,260.0 L636.6,270.0 L636.4,281.6 L633.4,281.6 L633.0,270.0Z" stroke="#000" stroke-width="1" stroke-linejoin="round"/>
<path d="M640.4,256.0 L650.0,251.2 L651.6,260.0 L649.2,268.0 L647.6,273.6 L645.2,278.4 L642.0,280.0 L637.2,281.6 L636.4,273.6 L638.8,264.0Z" stroke="#000" stroke-width="1" stroke-linejoin="round"/>
<path d="M649.2,203.8 L654.4,203.8 L655.2,207.0 L654.8,214.2 L654.4,218.2 L656.0,221.4 L656.0,225.4 L658.0,228.6 L658.5,233.4 L658.0,240.0 L658.0,243.2 L656.4,245.6 L653.2,244.8 L651.6,246.4 L647.6,248.4 L645.2,250.4 L642.8,251.2 L642.0,246.0 L641.8,238.0 L643.0,234.5 L646.0,234.0 L647.6,236.6 L648.4,228.6 L647.6,224.6 L648.8,221.4 L650.0,219.0 L648.4,215.8 L648.8,211.0Z" stroke="#000" stroke-width="1" stroke-linejoin="round"/>
<path d="M664.4,220.6 L671.6,220.6 L673.2,225.4 L672.8,231.8 L674.0,232.6 L678.0,231.0 L681.2,234.2 L681.0,243.0 L681.0,252.0 L676.0,254.0 L672.0,253.0 L668.0,252.0 L664.0,253.0 L662.8,250.0 L662.8,243.0 L663.6,236.6 L664.4,231.8 L663.2,225.4Z" stroke="#000" stroke-width="1" stroke-linejoin="round"/>
<path d="M675.6,254.0 L680.4,252.0 L682.0,262.0 L684.0,275.0 L686.0,284.0 L686.5,292.0 L681.0,292.0 L679.5,282.0 L677.0,272.0 L676.0,264.0Z" stroke="#000" stroke-width="1" stroke-linejoin="round"/>
<path d="M654.0,260.0 L658.0,259.2 L661.2,258.4 L664.4,260.0 L666.0,264.0 L665.2,270.4 L666.0,276.8 L664.4,280.0 L661.2,282.4 L658.8,284.8 L656.4,284.0 L654.8,278.4 L654.0,270.4 L653.2,264.0Z" stroke="#000" stroke-width="1" stroke-linejoin="round"/>
<path d="M667.6,259.2 L675.6,259.2 L676.0,266.0 L675.6,273.6 L671.0,274.0 L667.6,273.6 L667.0,266.0Z" stroke="#000" stroke-width="1" stroke-linejoin="round"/>
<path d="M681.0,288.0 L686.5,288.0 L687.0,300.0 L687.5,311.0 L690.0,318.0 L694.0,318.0 L697.0,313.0 L701.0,306.0 L705.0,299.0 L707.4,290.0 L707.4,270.0 L707.4,252.0 L713.0,250.0 L713.0,270.0 L712.0,290.0 L711.4,300.0 L711.0,315.0 L710.0,325.0 L709.0,334.0 L705.0,335.5 L699.0,336.5 L695.0,335.0 L692.0,333.0 L688.0,333.0 L683.0,333.0 L682.6,320.0 L682.6,311.0 L681.5,300.0Z" stroke="#000" stroke-width="1" stroke-linejoin="round"/>
<path d="M724.2,250.0 L731.4,250.0 L731.0,265.0 L730.0,280.0 L725.0,280.0 L724.5,265.0Z" stroke="#000" stroke-width="1" stroke-linejoin="round"/>
<path d="M711.0,214.0 L715.0,211.5 L719.0,212.0 L721.0,216.0 L721.0,235.0 L720.0,245.0 L718.0,253.0 L711.0,254.0 L710.5,240.0Z" stroke="#000" stroke-width="1" stroke-linejoin="round"/>
<path d="M723.0,210.0 L730.0,209.0 L734.0,211.0 L735.0,218.0 L735.5,227.0 L734.0,233.0 L733.0,239.0 L724.0,239.0 L723.0,230.0 L722.0,220.0Z" stroke="#000" stroke-width="1" stroke-linejoin="round"/>
<path d="M740.0,135.0 L746.0,135.0 L745.0,160.0 L743.0,180.0 L741.0,200.0 L735.0,202.0 L734.0,185.0 L736.0,165.0 L738.0,150.0Z" stroke="#000" stroke-width="1" stroke-linejoin="round"/>
<path d="M739.0,105.0 L745.8,105.0 L746.0,117.6 L744.4,119.7 L744.4,127.4 L742.0,129.0 L745.8,131.6 L745.8,141.4 L744.4,147.0 L735.3,147.0 L736.0,141.4 L740.2,135.0 L738.8,127.4 L738.8,119.7 L739.5,117.6Z" stroke="#000" stroke-width="1" stroke-linejoin="round"/>
<path d="M748.0,105.0 L763.3,105.0 L763.0,110.0 L760.5,113.4 L761.0,119.0 L762.6,124.6 L763.3,131.6 L760.0,134.0 L759.0,147.0 L749.0,147.0 L749.5,135.0 L750.0,128.8 L751.5,126.0 L752.0,122.5 L751.4,116.0 L749.3,112.0Z" stroke="#000" stroke-width="1" stroke-linejoin="round"/>
<path d="M749.0,135.0 L758.0,135.0 L758.0,149.0 L749.0,149.0Z" stroke="#000" stroke-width="1" stroke-linejoin="round"/>
<path d="M759.0,135.0 L766.0,135.0 L767.0,150.0 L770.0,168.0 L772.0,200.0 L778.0,210.0 L777.0,230.0 L772.0,244.0 L767.0,244.0 L766.0,220.0 L764.0,200.0 L762.0,168.0 L759.5,145.0Z" stroke="#000" stroke-width="1" stroke-linejoin="round"/>
<path d="M776.5,199.0 L779.6,195.5 L783.5,199.0 L784.0,239.0 L788.0,244.0 L789.0,255.0 L782.0,255.0 L779.0,242.0 L776.0,239.0Z" stroke="#000" stroke-width="1" stroke-linejoin="round"/>
</g>
<path d="M746.4,39.5 L746.4,50.0M748.5,45.0 L748.5,54.0M745.0,52.0 L745.0,64.0M750.5,52.0 L750.5,64.0M747.5,50.0 L747.5,66.0M744.5,70.0 L748.0,72.0 L744.4,75.8 L749.2,79.0 L748.8,83.0 L748.4,87.8 L744.4,93.4 L742.8,96.6 L743.2,101.0M741.6,107.0 L742.0,111.8 L743.2,115.8 L742.0,121.8M759.6,66.5 L759.6,72.0 L760.0,75.8 L760.4,79.8 L761.2,83.8 L758.8,88.2M751.6,93.4 L753.2,97.4 L753.6,102.2 L750.8,107.0 L754.0,110.2 L752.4,115.0 L757.2,115.8 L758.0,120.6M759.6,107.0 L754.0,110.2" fill="none" stroke="#000" stroke-width="5.5" stroke-linecap="round" stroke-linejoin="round"/>
<g fill="#000">
<circle cx="112.5" cy="457.5" r="2.75"/>
<circle cx="218.5" cy="432.5" r="2.75"/>
<circle cx="651.5" cy="201.5" r="2.75"/>
<circle cx="667.5" cy="216.3" r="2.75"/>
<circle cx="623.2" cy="241.6" r="2.75"/>
<circle cx="622.8" cy="248.4" r="2.75"/>
<circle cx="621.2" cy="250" r="2.75"/>
<circle cx="622.4" cy="256" r="2.75"/>
<circle cx="644.6" cy="236.6" r="2.75"/>
<circle cx="727.5" cy="245" r="2.75"/>
<circle cx="729" cy="250" r="2.75"/>
<circle cx="727" cy="254" r="2.75"/>
<circle cx="735.5" cy="198.5" r="2.75"/>
<circle cx="734.5" cy="201" r="2.75"/>
<circle cx="736" cy="208.5" r="2.75"/>
<circle cx="590" cy="325.1" r="2.75"/>
<circle cx="589.4" cy="328.4" r="2.75"/>
<circle cx="590.3" cy="342.2" r="2.75"/>
<circle cx="589.4" cy="354.5" r="2.75"/>
<circle cx="589.4" cy="356.5" r="2.75"/>
<circle cx="547.6" cy="418.4" r="2.75"/>
<circle cx="547.8" cy="411.5" r="2.75"/>
<circle cx="619" cy="314.5" r="2.75"/>
<circle cx="620.6" cy="320.6" r="2.75"/>
<circle cx="623.5" cy="241.3" r="2.75"/>
<circle cx="623" cy="248" r="2.75"/>
<circle cx="727.4" cy="279.6" r="2.75"/>
<circle cx="684.2" cy="342" r="2.75"/>
<circle cx="751" cy="157.5" r="2.75"/>
<circle cx="736" cy="144" r="2.75"/>
<circle cx="736" cy="208" r="2.75"/>
<circle cx="727" cy="244" r="2.75"/>
<circle cx="729" cy="252" r="2.75"/>
<circle cx="881" cy="312" r="2.75"/>
<circle cx="881" cy="317" r="2.75"/>
<circle cx="881" cy="320.5" r="2.75"/>
<circle cx="905.5" cy="318" r="2.75"/>
<circle cx="905.5" cy="323" r="2.75"/>
<circle cx="905.5" cy="328" r="2.75"/>
<circle cx="905.5" cy="332.5" r="2.75"/>
</g>
<polyline points="112.1,459.5 113.0,461.5 114.5,460.5 116.0,464.0 118.0,468.0 120.5,471.0 122.5,468.0 125.5,464.5 127.5,466.5 129.5,466.0 131.5,469.0 135.0,468.5 138.0,467.0 141.0,464.5 143.5,464.0 145.5,455.0 147.0,456.5 148.5,459.0 150.0,457.5 151.5,461.0 154.0,465.0 156.0,468.0 158.0,464.0 160.5,460.5 162.5,462.5 164.5,462.0 167.0,465.5 170.0,465.0 173.0,463.5 176.0,460.5 178.5,461.5 181.5,451.0 183.5,455.0 185.5,454.0 187.5,459.0 191.0,463.5 193.5,459.0 195.5,456.5 197.5,459.0 199.5,457.5 202.0,460.5 205.0,461.0 208.0,459.5 211.0,457.0 213.0,458.0 216.5,447.0 218.0,450.0 219.5,451.5 221.0,449.0 223.0,455.0 226.5,459.5 229.0,455.0 231.0,453.0 233.0,456.0 235.0,454.5 237.0,457.5 240.0,457.5 243.0,458.5 246.0,457.0 249.0,459.5 251.5,451.0 253.5,455.0 255.5,455.5 258.0,463.0 260.0,467.0 262.0,471.0 264.0,468.0 266.0,467.0 268.0,471.0 270.0,470.0 272.0,474.0 276.0,477.0 280.0,476.5 282.0,477.5 284.5,479.5 287.0,471.5 288.5,476.0 290.5,476.5 292.5,483.0 295.0,487.0 297.0,491.0 299.0,488.5 301.0,487.0 303.0,492.0 305.5,493.0 308.0,496.0 311.0,496.0 314.0,495.0 317.0,492.5 319.5,491.0 322.0,483.5 324.0,487.5 326.0,486.0 328.0,492.0 330.0,495.0 332.0,496.5 334.5,492.0 336.5,490.5 339.0,493.0 341.0,492.5 343.0,495.5 346.0,496.0 349.0,494.5 352.0,491.0 355.0,492.0 357.5,482.0 360.0,487.0 362.0,485.0 365.0,492.0 367.5,495.5 370.0,491.0 372.0,488.5 375.0,491.0 377.5,492.5 381.0,494.0 384.0,493.0 386.5,490.0 389.0,490.5 391.0,486.0 392.5,480.5 394.0,483.5 396.0,483.0 398.0,488.0 400.0,490.5 402.0,493.5 404.5,490.0 407.0,487.5 409.0,489.5 411.0,489.5 413.0,492.0 416.0,492.5 419.0,491.0 422.0,489.0 424.5,489.5 427.5,479.0 429.5,482.0 431.5,481.5 433.5,487.0 435.5,489.5 437.5,492.0 440.0,488.0 442.5,485.5 444.5,488.0 446.0,487.5 448.0,490.0 451.0,490.0 454.0,489.5 456.0,486.5 458.0,485.5 461.0,482.5 463.0,475.0 465.0,478.5 467.0,477.0 469.0,483.0 472.0,485.4 474.8,481.2 477.2,478.8 479.6,480.6 482.0,480.0 484.4,482.4 488.0,481.8 491.6,478.8 494.0,476.4 495.8,475.2 498.2,466.8 500.0,470.4 501.8,468.6 503.6,472.8 505.0,474.5 508.0,475.2 510.0,469.0 513.0,464.0 516.0,462.0 518.0,461.0 521.0,458.0 525.0,453.0 529.0,448.0 530.6,445.4 532.4,435.8 534.2,435.2 537.2,431.0 539.0,434.0 541.4,434.6 543.2,435.2 545.0,431.6 547.4,424.4 549.8,424.4 552.2,422.0 555.8,420.8 559.4,418.4 561.6,414.8 562.4,414.2 564.8,414.2 565.2,412.4 567.0,406.4 568.8,402.2 570.6,404.6 572.4,402.8 574.8,407.0 577.8,410.0 580.2,405.2 582.6,398.6 585.0,398.6 587.4,396.2 589.8,396.2 592.8,392.6 595.6,389.0 597.8,383.8 599.6,381.4 601.4,377.2 603.2,371.8 605.0,365.8 606.8,358.0 607.6,350.0 609.8,348.2 612.2,344.0 614.6,339.2 616.4,332.0 618.2,323.6 620.0,316.0 622.4,307.0 626.0,299.8 629.0,293.2 630.8,288.0 633.2,278.4 636.4,273.6 638.8,257.6 640.4,256.8 642.4,252.0 643.6,250.4 645.2,251.2 647.2,249.2 649.2,250.4 651.6,247.2 653.2,245.6 654.8,248.0 657.2,249.6 658.8,253.6 661.2,255.2 664.4,256.0 666.8,256.0 668.4,254.8 670.8,257.6 672.4,256.8 674.0,255.6 675.6,261.6 678.0,268.0 680.4,276.0 682.6,286.8 685.0,296.4 689.0,301.2 692.2,312.4 694.6,320.4 698.6,309.2 703.4,298.0 707.4,285.2 709.8,270.8 712.2,266.0 714.6,259.6 716.2,258.8 719.4,250.0 720.0,242.0 723.0,224.0 725.0,215.0 727.0,205.0 728.5,195.0 731.0,180.0 734.0,165.0 736.7,147.0 738.8,133.0 740.9,130.9 743.0,126.0 744.4,121.8 745.8,124.6 747.2,126.0 748.6,124.6 750.0,128.8 752.8,133.0 754.9,136.5 757.0,133.0 759.1,131.6 761.2,133.7 763.3,134.4 764.0,140.0 764.7,147.0 766.0,160.0 768.0,173.0 770.0,188.0 772.0,205.0 774.5,215.0 776.5,226.0 778.0,235.0 779.5,245.0 781.0,258.0 784.2,282.0 785.1,294.0 786.0,298.2 787.8,300.0 789.6,303.0 791.4,300.0 794.1,296.7 795.9,299.1 798.0,299.1 799.8,302.1 802.2,302.7 804.6,303.0 807.0,302.7 808.8,300.0 811.2,300.6 813.0,298.2 815.1,291.0 816.6,294.6 818.7,293.7 820.2,296.4 822.0,301.2 825.0,305.4 826.8,301.8 829.2,299.4 831.0,301.2 832.8,301.8 834.0,303.0 835.8,304.8 838.2,305.4 840.4,305.2 842.2,304.6 844.0,302.5 845.8,303.4 847.6,302.8 849.4,296.8 850.6,293.8 851.8,296.8 853.6,296.8 855.4,300.4 857.2,304.0 859.0,306.4 860.5,308.5 862.0,306.4 864.4,301.9 866.2,304.0 868.0,305.2 869.8,307.0 871.6,307.6 874.0,307.9 876.4,307.6 878.8,306.4 881.2,305.2 882.4,306.4 884.2,300.4 886.0,296.8 887.8,300.4 889.6,299.8 891.5,302.5 893.0,306.5 895.0,311.5 897.0,308.5 899.5,304.5 901.5,307.5 903.5,306.5 905.5,310.0 908.0,311.0 911.0,311.0 913.0,310.0 915.0,307.5 917.0,308.5 918.5,304.0 920.5,298.5 922.0,301.5 923.0,304.0 924.5,301.5 926.0,304.5 927.5,311.0 930.0,311.0 932.0,309.5 934.0,307.0 935.5,303.5" fill="none" stroke="#0072B2" stroke-width="2.08" stroke-linejoin="round"/>
<path d="M929.0,300.0 931.5,298.5 934.0,299.5 935.0,302.0 934.0,305.0 933.5,308.0 933.0,312.5 932.0,317.0 929.5,318.0 927.0,316.5 926.5,314.0 928.0,311.0 928.5,306.5 928.0,304.0Z" fill="#f00" stroke="#f00" stroke-width="0.8" stroke-linejoin="round"/>
<rect x="71.5" y="15.5" width="905.0" height="527.0" fill="none" stroke="#000" stroke-width="1.11"/>
<path d="M121.5,542.5v4.86M262.5,542.5v4.86M403.5,542.5v4.86M544.5,542.5v4.86M684.5,542.5v4.86M825.5,542.5v4.86M966.5,542.5v4.86M71.5,510.5h-4.86M71.5,452.5h-4.86M71.5,393.5h-4.86M71.5,334.5h-4.86M71.5,275.5h-4.86M71.5,216.5h-4.86M71.5,158.5h-4.86M71.5,99.5h-4.86M71.5,40.5h-4.86" stroke="#000" stroke-width="1.11"/>
<g font-family="Liberation Sans, sans-serif" font-size="14" fill="#000">
<text x="121.5" y="562" text-anchor="middle" textLength="34.80" lengthAdjust="spacingAndGlyphs">2003</text>
<text x="261.4" y="562" text-anchor="middle" textLength="34.80" lengthAdjust="spacingAndGlyphs">2007</text>
<text x="402.5" y="562" text-anchor="middle" textLength="34.80" lengthAdjust="spacingAndGlyphs">2011</text>
<text x="543.4" y="562" text-anchor="middle" textLength="34.80" lengthAdjust="spacingAndGlyphs">2015</text>
<text x="684.6" y="562" text-anchor="middle" textLength="34.80" lengthAdjust="spacingAndGlyphs">2019</text>
<text x="825.4" y="562" text-anchor="middle" textLength="34.80" lengthAdjust="spacingAndGlyphs">2023</text>
<text x="966.4" y="562" text-anchor="middle" textLength="34.80" lengthAdjust="spacingAndGlyphs">2027</text>
<text x="60.4" y="515.55" text-anchor="end" textLength="8.45" lengthAdjust="spacingAndGlyphs">0</text>
<text x="60.4" y="456.80" text-anchor="end" textLength="25.35" lengthAdjust="spacingAndGlyphs">100</text>
<text x="60.4" y="398.05" text-anchor="end" textLength="25.35" lengthAdjust="spacingAndGlyphs">200</text>
<text x="60.4" y="339.30" text-anchor="end" textLength="25.35" lengthAdjust="spacingAndGlyphs">300</text>
<text x="60.4" y="280.55" text-anchor="end" textLength="25.35" lengthAdjust="spacingAndGlyphs">400</text>
<text x="60.4" y="221.80" text-anchor="end" textLength="25.35" lengthAdjust="spacingAndGlyphs">500</text>
<text x="60.4" y="163.05" text-anchor="end" textLength="25.35" lengthAdjust="spacingAndGlyphs">600</text>
<text x="60.4" y="104.30" text-anchor="end" textLength="25.35" lengthAdjust="spacingAndGlyphs">700</text>
<text x="60.4" y="45.55" text-anchor="end" textLength="25.35" lengthAdjust="spacingAndGlyphs">800</text>
<text x="523.6" y="581.5" text-anchor="middle" textLength="16.06" lengthAdjust="spacingAndGlyphs">ds</text>
<text transform="translate(25,279.0) rotate(-90)" text-anchor="middle" textLength="8.2" lengthAdjust="spacingAndGlyphs">y</text>
</g>
</svg>
</body></html>
